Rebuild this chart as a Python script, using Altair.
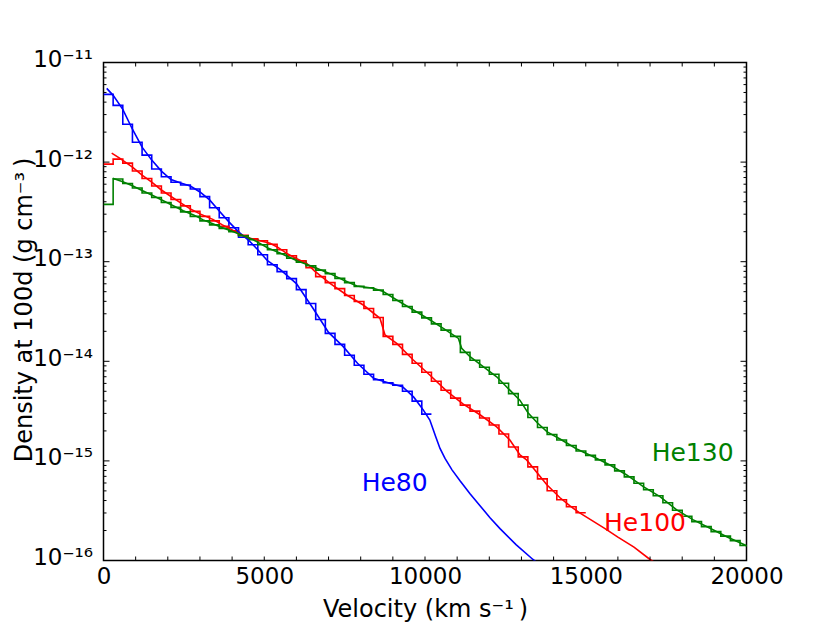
import altair as alt
import pandas as pd

# ---------------- data (log10 of density) ----------------
BIN_WIDTH = 300  # km/s, width of the binned (step) profiles

MODELS = ["He80", "He100", "He130"]
COLORS = ["#0000ff", "#ff0000", "#008000"]

BLUE_V = [100, 300, 600, 900, 1200, 1500, 1800, 2100, 2400, 2700, 3000, 3300, 3600,
          3900, 4200, 4500, 4800, 5100, 5500, 6000, 6500, 7000, 7450, 7900, 8400,
          8900, 9300, 9650, 9950, 10150, 10260, 10342, 10467, 10622, 10840, 11089,
          11400, 11711, 12022, 12333, 12831, 13359, 13600]
BLUE_LOG = [-11.26, -11.33, -11.47, -11.67, -11.85, -11.98, -12.09, -12.175, -12.21,
            -12.24, -12.30, -12.38, -12.49, -12.60, -12.70, -12.78, -12.88, -12.99,
            -13.08, -13.22, -13.46, -13.71, -13.85, -14.02, -14.17, -14.22, -14.255,
            -14.36, -14.49, -14.59, -14.69, -14.765, -14.875, -14.975, -15.09, -15.20,
            -15.33, -15.45, -15.57, -15.68, -15.84, -15.99, -16.05]
BLUE_STEP = [-11.32, -11.43, -11.62, -11.80, -11.93, -12.07, -12.147, -12.203, -12.23,
             -12.27, -12.347, -12.458, -12.558, -12.659, -12.755, -12.83, -12.93,
             -13.03, -13.10, -13.17, -13.28, -13.42, -13.58, -13.72, -13.83, -13.94,
             -14.04, -14.13, -14.185, -14.215, -14.24, -14.30, -14.40, -14.53]

RED_V = [255, 500, 900, 1200, 1500, 1800, 2100, 2400, 2700, 3000, 3400, 3700, 4000,
         4250, 4560, 4870, 5180, 5390, 5700, 6010, 6320, 6550, 7045, 7565, 8080, 8600,
         8756, 9120, 9636, 10156, 10675, 11190, 11710, 12230, 12640, 12955, 13160,
         13360, 13790, 14200, 14500, 14800, 15200, 15600, 16000, 16500, 17000, 17200]
RED_LOG = [-11.91, -11.96, -12.05, -12.13, -12.20, -12.28, -12.345, -12.41, -12.47,
           -12.52, -12.575, -12.63, -12.68, -12.727, -12.765, -12.789, -12.815, -12.849,
           -12.916, -12.97, -13.016, -13.09, -13.217, -13.334, -13.435, -13.568, -13.736,
           -13.82, -13.987, -14.14, -14.30, -14.43, -14.537, -14.658, -14.79, -14.94,
           -14.99, -15.07, -15.24, -15.37, -15.45, -15.52, -15.60, -15.68, -15.765,
           -15.865, -15.99, -16.03]
RED_STEP = [-12.02, -11.97, -12.01, -12.09, -12.165, -12.24, -12.31, -12.375, -12.44,
            -12.495, -12.545, -12.59, -12.645, -12.69, -12.735, -12.77, -12.79, -12.825,
            -12.88, -12.94, -12.99, -13.06, -13.15, -13.21, -13.27, -13.34, -13.40,
            -13.47, -13.56, -13.75, -13.83, -13.93, -14.02, -14.11, -14.20, -14.29,
            -14.37, -14.44, -14.50, -14.57, -14.64, -14.73, -14.86, -14.96, -15.06,
            -15.18, -15.30, -15.39, -15.46, -15.52]

GREEN_V = [286, 600, 900, 1200, 1550, 1860, 2170, 2480, 2800, 3100, 3400, 3700, 4040,
           4350, 4660, 5130, 5490, 6020, 6520, 7045, 7460, 7880, 8390, 8700, 9120, 9640,
           10160, 10570, 11040, 11140, 11400, 11810, 12230, 12640, 12950, 13210, 13500,
           13800, 14200, 14720, 15235, 15754, 16274, 16790, 17309, 17829, 18345, 18865,
           19384, 19953, 20100]
GREEN_LOG = [-12.163, -12.197, -12.237, -12.285, -12.337, -12.388, -12.438, -12.488,
             -12.53, -12.58, -12.62, -12.658, -12.70, -12.74, -12.78, -12.865, -12.913,
             -12.99, -13.05, -13.12, -13.184, -13.244, -13.267, -13.30, -13.384, -13.485,
             -13.585, -13.67, -13.77, -13.87, -13.954, -14.054, -14.155, -14.29, -14.39,
             -14.52, -14.62, -14.709, -14.78, -14.88, -14.958, -15.041, -15.141, -15.259,
             -15.359, -15.492, -15.592, -15.677, -15.761, -15.844, -15.87]
GREEN_STEP = [-12.424, -12.17, -12.215, -12.26, -12.31, -12.355, -12.405, -12.455,
              -12.50, -12.545, -12.59, -12.63, -12.665, -12.70, -12.74, -12.78, -12.83,
              -12.88, -12.92, -12.965, -13.005, -13.04, -13.085, -13.12, -13.167, -13.21,
              -13.248, -13.262, -13.285, -13.33, -13.39, -13.45, -13.506, -13.564,
              -13.624, -13.687, -13.75, -13.91, -13.99, -14.06, -14.13, -14.22, -14.325,
              -14.44, -14.565, -14.665, -14.735, -14.79, -14.845, -14.90, -14.945,
              -14.99, -15.04, -15.10, -15.16, -15.225, -15.29, -15.35, -15.42, -15.495,
              -15.555, -15.61, -15.66, -15.71, -15.755, -15.80, -15.85]

# annotation labels (left edge velocity, baseline density as log10)
LABEL_TEXT = ["He80", "He100", "He130"]
LABEL_V = [8030, 15570, 17050]
LABEL_LOG = [-15.30, -15.70, -15.00]

X_LABEL_VALUES = [0, 5000, 10000, 15000, 20000]
X_MINOR_VALUES = list(range(0, 20001, 1000))
Y_DECADES = [-16, -15, -14, -13, -12, -11]
Y_TICK_LABELS = ["10⁻¹⁶", "10⁻¹⁵", "10⁻¹⁴", "10⁻¹³", "10⁻¹²", "10⁻¹¹"]
MINOR_MULT = [2, 3, 4, 5, 6, 7, 8, 9]

X_TITLE = "Velocity (km s⁻¹\u2009)"
Y_TITLE = "Density at 100d (g cm⁻³\u2009)"

# ---------------- tables ----------------
def line_frame(name, v, lg):
    return pd.DataFrame({"v": v, "rho": [10.0 ** x for x in lg], "model": name})


def step_frame(name, steps):
    edges = [i * BIN_WIDTH for i in range(len(steps) + 1)]
    vals = steps + [steps[-1]]
    return pd.DataFrame({"v": edges, "rho": [10.0 ** x for x in vals], "model": name})


lines = pd.concat([line_frame("He80", BLUE_V, BLUE_LOG),
                   line_frame("He100", RED_V, RED_LOG),
                   line_frame("He130", GREEN_V, GREEN_LOG)], ignore_index=True)
steps = pd.concat([step_frame("He80", BLUE_STEP),
                   step_frame("He100", RED_STEP),
                   step_frame("He130", GREEN_STEP)], ignore_index=True)
labels = pd.DataFrame({"v": LABEL_V, "rho": [10.0 ** x for x in LABEL_LOG],
                       "model": LABEL_TEXT, "text": LABEL_TEXT})

y_major = pd.DataFrame({"val": [10.0 ** d for d in Y_DECADES]})
y_minor = pd.DataFrame({"val": [m * 10.0 ** d for d in Y_DECADES[:-1] for m in MINOR_MULT]})
x_ticks = pd.DataFrame({"val": X_MINOR_VALUES})

# ---------------- chart ----------------
W, H = 643, 498
FONT = "DejaVu Sans"

xs = alt.Scale(domain=[0, 20000], nice=False, zero=False)
ys = alt.Scale(type="log", domain=[1e-16, 1e-11], nice=False)
cs = alt.Scale(domain=MODELS, range=COLORS)

label_list = "[" + ",".join("'" + t + "'" for t in Y_TICK_LABELS) + "]"
x_axis = alt.Axis(values=X_LABEL_VALUES, format="d", ticks=False, domain=False,
                  grid=False, labelFontSize=23, labelPadding=5, labelFlush=False,
                  labelOverlap=False, title=X_TITLE, titleFontSize=24,
                  titleFontWeight="normal", titlePadding=9)
y_axis = alt.Axis(values=[10.0 ** d for d in Y_DECADES], ticks=False, domain=False,
                  grid=False, labelFontSize=23, labelPadding=11, labelFlush=False,
                  labelOverlap=False, labelOffset=-3,
                  labelExpr=label_list + "[round(log(datum.value)/LN10)+16]",
                  title=Y_TITLE, titleFontSize=24, titleFontWeight="normal",
                  titleX=-72, titleY=247, titleAngle=270, titleAlign="center",
                  titleBaseline="alphabetic")

X = alt.X("v:Q", scale=xs, axis=x_axis)
Y = alt.Y("rho:Q", scale=ys, axis=y_axis)
C = alt.Color("model:N", scale=cs, legend=None)

smooth = alt.Chart(lines).mark_line(strokeWidth=1.6, clip=True).encode(
    x=X, y=Y, color=C, detail="model:N")
stepped = alt.Chart(steps).mark_line(strokeWidth=1.6, clip=True,
                                     interpolate="step-after").encode(
    x=X, y=Y, color=C, detail="model:N")
text = alt.Chart(labels).mark_text(align="left", baseline="alphabetic", fontSize=25,
                                   font=FONT).encode(x=X, y=Y, text="text:N", color=C)

YT = alt.Y("val:Q", scale=ys, axis=y_axis)
XT = alt.X("val:Q", scale=xs, axis=x_axis)
tick_style = dict(color="black", strokeWidth=1)
t_left_major = alt.Chart(y_major).mark_rule(**tick_style).encode(
    y=YT, x=alt.value(0), x2=alt.value(6))
t_right_major = alt.Chart(y_major).mark_rule(**tick_style).encode(
    y=YT, x=alt.value(W - 6), x2=alt.value(W))
t_left_minor = alt.Chart(y_minor).mark_rule(**tick_style).encode(
    y=YT, x=alt.value(0), x2=alt.value(3))
t_right_minor = alt.Chart(y_minor).mark_rule(**tick_style).encode(
    y=YT, x=alt.value(W - 3), x2=alt.value(W))
t_bottom = alt.Chart(x_ticks).mark_rule(**tick_style).encode(
    x=XT, y=alt.value(H - 4), y2=alt.value(H))
t_top = alt.Chart(x_ticks).mark_rule(**tick_style).encode(
    x=XT, y=alt.value(0), y2=alt.value(4))

chart = alt.layer(
    stepped, smooth, t_left_major, t_right_major, t_left_minor, t_right_minor,
    t_bottom, t_top, text
).properties(
    width=W, height=H,
    autosize=alt.AutoSizeParams(type="none"),
    padding={"left": 95.5, "top": 54.5, "right": 70, "bottom": 66},
).configure_view(
    stroke="black", strokeWidth=1.5
).configure_axis(
    labelFont=FONT, titleFont=FONT, labelColor="black", titleColor="black"
).configure_text(font=FONT)

chart.save("out.html", embed_options={"renderer": "svg", "actions": False})
